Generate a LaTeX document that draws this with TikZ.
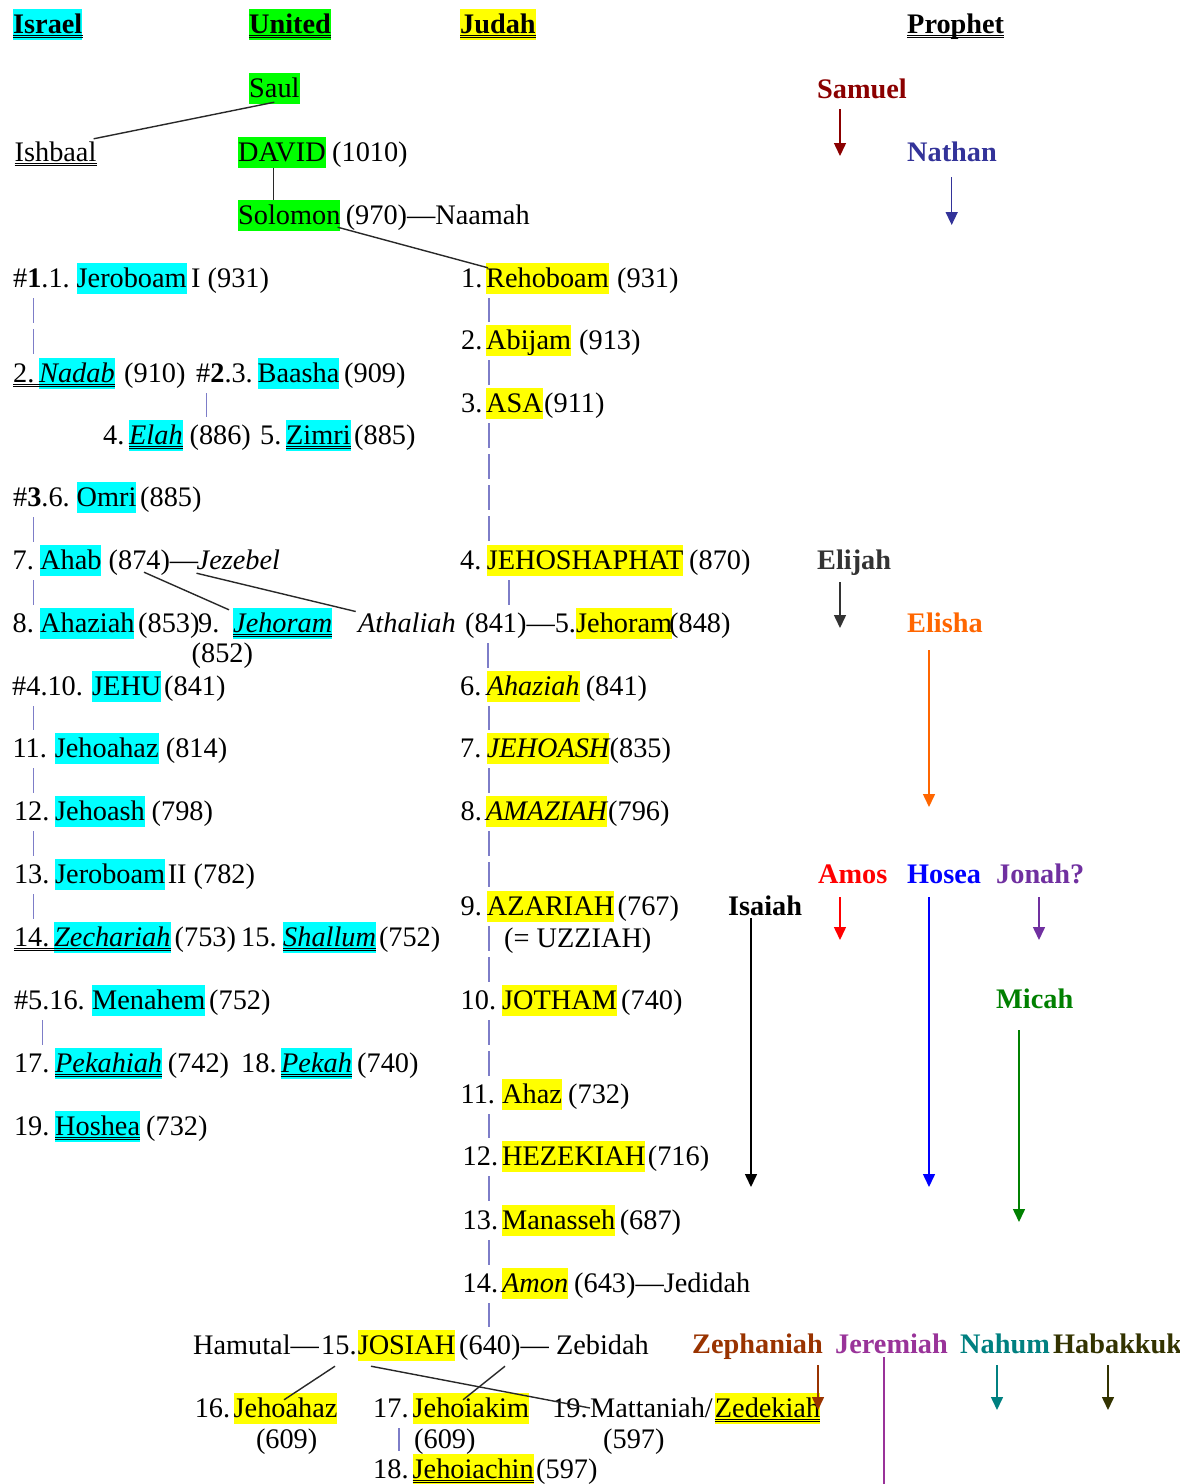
\documentclass[tikz,border=0pt]{standalone}
\usepackage{fontspec}
\setmainfont{Liberation Serif}
\usetikzlibrary{arrows.meta}
\definecolor{hcyan}{RGB}{0,255,255}
\definecolor{hgreen}{RGB}{0,255,0}
\definecolor{hyellow}{RGB}{255,255,0}
\definecolor{vlcol}{RGB}{125,125,200}
\definecolor{dlcol}{RGB}{40,40,40}
\definecolor{csam}{RGB}{139,0,0}
\definecolor{cnat}{RGB}{51,51,153}
\definecolor{celi}{RGB}{51,51,51}
\definecolor{cels}{RGB}{255,102,0}
\definecolor{camo}{RGB}{255,0,0}
\definecolor{chos}{RGB}{0,0,255}
\definecolor{cjon}{RGB}{112,48,160}
\definecolor{cisa}{RGB}{0,0,0}
\definecolor{cmic}{RGB}{0,128,0}
\definecolor{czep}{RGB}{153,51,0}
\definecolor{cjer}{RGB}{153,51,153}
\definecolor{cnah}{RGB}{0,128,128}
\definecolor{chab}{RGB}{51,51,0}
\tikzset{
 t/.style={anchor=base west, inner sep=0pt, text height=24pt, text depth=7pt},
 hc/.style={t, fill=hcyan},
 hg/.style={t, fill=hgreen},
 hy/.style={t, fill=hyellow},
 it/.style={font=\itshape},
 bf/.style={font=\bfseries},
 pr/.style={t, font=\bfseries, text=#1},
 vl/.style={draw=vlcol, line width=1.3pt, dash pattern=on 25pt off 6pt, shorten <=4pt, shorten >=3pt},
 dl/.style={draw=dlcol, line width=1.4pt},
 ulst/.style={draw=black, line width=0.8pt},
 pa/.style={line width=1.5pt, draw=#1, -{Triangle[width=12pt,length=13pt,fill=#1]}},
}
\newcommand\vlk[3]{\path ([xshift=#3]#2.north west) coordinate (vtmp); \draw[vl] (vtmp |- #1.south) -- (vtmp);}
\newcommand\dul[2]{\draw[ulst] ([yshift=-2pt]#1.base west) -- ([yshift=-2pt]#2.base east); \draw[ulst] ([yshift=-4.5pt]#1.base west) -- ([yshift=-4.5pt]#2.base east);}
\begin{document}
\fontsize{28.3pt}{34pt}\selectfont
\begin{tikzpicture}[x=1pt,y=-1pt]
\fill[white] (0,0) rectangle (1180,1484);
\useasboundingbox (0,0) rectangle (1180,1484);

% headers
\node[hc,bf] (hIsr) at (13,33) {Israel};
\node[hg,bf] (hUni) at (249,33) {United};
\node[hy,bf] (hJud) at (460,33) {Judah};
\node[t,bf] (hPro) at (907,33) {Prophet};
\dul{hIsr}{hIsr} \dul{hUni}{hUni} \dul{hJud}{hJud} \dul{hPro}{hPro}

% united monarchy
\node[hg] (saul) at (249,97) {Saul};
\node[t] (ish) at (14.5,161) {Ishbaal};
\dul{ish}{ish}
\node[hg] (dav) at (238,161) {DAVID};
\node[t] (d1010) at (332,161) {(1010)};
\node[hg] (sol) at (238,224) {Solomon};
\node[t] (s970) at (345.6,224) {(970)—Naamah};

% Israel
\node[t] (j1n) at (13,287) {\#\textbf{1}.1.};
\node[hc] (jer1) at (76.5,287) {Jeroboam};
\node[t] (jer1b) at (191,287) {I (931)};

\node[t] (nad2n) at (13,382) {2.};
\node[hc,it] (nad) at (39,382) {Nadab};
\node[t] (nad910) at (124,382) {(910)};
\dul{nad2n}{nad}
\node[t] (b2n) at (196,382) {\#\textbf{2}.3.};
\node[hc] (baa) at (257.5,382) {Baasha};
\node[t] (b909) at (344,382) {(909)};

\node[t] (e4n) at (103,444) {4.};
\node[hc,it] (elah) at (129,444) {Elah};
\node[t] (e886) at (189.4,444) {(886)};
\node[t] (z5n) at (260,444) {5.};
\node[hc] (zim) at (286,444) {Zimri};
\node[t] (z885) at (354,444) {(885)};
\dul{elah}{elah} \dul{zim}{zim}

\node[t] (o3n) at (13,506) {\#\textbf{3}.6.};
\node[hc] (omri) at (76.5,506) {Omri};
\node[t] (o885) at (140,506) {(885)};

\node[t] (a7n) at (12.4,569) {7.};
\node[hc] (ahab) at (40,569) {Ahab};
\node[t] (a874) at (108.5,569) {(874)—};
\node[t,it] (jez) at (196.5,569) {Jezebel};

\node[t] (a8n) at (12.4,632) {8.};
\node[hc] (ahz8) at (40,632) {Ahaziah};
\node[t] (a853) at (138,632) {(853)};
\node[t] (n9) at (198,632) {9.};
\node[hc,it] (jor9) at (233,632) {Jehoram};
\dul{jor9}{jor9}
\node[t] (j852) at (191.5,662) {(852)};

\node[t] (j4hn) at (12,695) {\#4.10.};
\node[hc] (jehu) at (92,695) {JEHU};
\node[t] (j841) at (164,695) {(841)};

\node[t] (n11) at (12.4,757) {11.};
\node[hc] (jhz) at (54.7,757) {Jehoahaz};
\node[t] (j814) at (165.7,757) {(814)};

\node[t] (n12) at (13.8,820) {12.};
\node[hc] (jhs) at (55,820) {Jehoash};
\node[t] (j798) at (151.5,820) {(798)};

\node[t] (n13) at (13.8,883) {13.};
\node[hc] (jer2) at (55,883) {Jeroboam};
\node[t] (j782) at (167.6,883) {II (782)};

\node[t] (n14) at (13.8,946) {14.};
\node[hc,it] (zec) at (54,946) {Zechariah};
\node[t] (z753) at (174.5,946) {(753)};
\node[t] (n15) at (241,946) {15.};
\node[hc,it] (sha) at (283,946) {Shallum};
\node[t] (s752) at (378.8,946) {(752)};
\dul{n14}{zec} \dul{sha}{sha}

\node[t] (n16) at (13.8,1009) {\#5.16.};
\node[hc] (men) at (92,1009) {Menahem};
\node[t] (m752) at (209,1009) {(752)};

\node[t] (n17) at (13.8,1072) {17.};
\node[hc,it] (pkh) at (55,1072) {Pekahiah};
\node[t] (p742) at (167.6,1072) {(742)};
\node[t] (n18) at (241,1072) {18.};
\node[hc,it] (pek) at (281,1072) {Pekah};
\node[t] (p740) at (357,1072) {(740)};
\dul{pkh}{pkh} \dul{pek}{pek}

\node[t] (n19) at (13.8,1135) {19.};
\node[hc] (hos) at (55,1135) {Hoshea};
\node[t] (h732) at (146,1135) {(732)};
\dul{hos}{hos}

% Judah
\node[t] (r1n) at (461,287) {1.};
\node[hy] (reh) at (486,287) {Rehoboam};
\node[t] (r931) at (617,287) {(931)};
\node[t] (r2n) at (461,349) {2.};
\node[hy] (abi) at (486,349) {Abijam};
\node[t] (r913) at (579,349) {(913)};
\node[t] (r3n) at (461,412) {3.};
\node[hy] (asa) at (486,412) {ASA};
\node[t] (r911) at (544,412) {(911)};
\node[t] (j4n) at (460,569) {4.};
\node[hy] (jehos) at (486.6,569) {JEHOSHAPHAT};
\node[t] (r870) at (689,569) {(870)};
\node[t,it] (ath) at (358,632) {Athaliah};
\node[t] (a841) at (465,632) {(841)—5.};
\node[hy] (jor5) at (576,632) {Jehoram};
\node[t] (r848) at (669,632) {(848)};
\node[t] (r6n) at (460,695) {6.};
\node[hy,it] (ahz6) at (486.6,695) {Ahaziah};
\node[t] (r841) at (585.6,695) {(841)};
\node[t] (r7n) at (460,757) {7.};
\node[hy,it] (jhsh) at (486.6,757) {JEHOASH};
\node[t] (r835) at (609.5,757) {(835)};
\node[t] (r8n) at (460.5,820) {8.};
\node[hy,it] (ama) at (485.8,820) {AMAZIAH};
\node[t] (r796) at (608,820) {(796)};
\node[t] (r9n) at (460.5,915) {9.};
\node[hy] (aza) at (486.7,915) {AZARIAH};
\node[t] (r767) at (617.5,915) {(767)};
\node[t] (uzz) at (504,947) {(= UZZIAH)};
\node[t] (r10n) at (460.5,1009) {10.};
\node[hy] (jot) at (502,1009) {JOTHAM};
\node[t] (r740) at (621,1009) {(740)};
\node[t] (r11n) at (460.5,1103) {11.};
\node[hy] (ahaz) at (502,1103) {Ahaz};
\node[t] (r732) at (568,1103) {(732)};
\node[t] (r12n) at (462.5,1165) {12.};
\node[hy] (hez) at (502,1165) {HEZEKIAH};
\node[t] (r716) at (647.7,1165) {(716)};
\node[t] (r13n) at (462.5,1229) {13.};
\node[hy] (man) at (502,1229) {Manasseh};
\node[t] (r687) at (619.6,1229) {(687)};
\node[t] (r14n) at (462.5,1292) {14.};
\node[hy,it] (amon) at (502,1292) {Amon};
\node[t] (r643) at (574,1292) {(643)—Jedidah};
\node[t] (ham) at (193,1354) {Hamutal—};
\node[t] (r15n) at (321,1354) {15.};
\node[hy] (jos) at (357.6,1354) {JOSIAH};
\node[t] (p640) at (459,1354) {(640)};
\node[t] (zeb) at (520.5,1354) {— Zebidah};
\node[t] (n16b) at (194.6,1417) {16.};
\node[hy] (jhz2) at (233.5,1417) {Jehoahaz};
\node[t] (n17b) at (373,1417) {17.};
\node[hy] (jkim) at (412.5,1417) {Jehoiakim};
\node[t] (n19b) at (552,1417) {19.};
\node[t] (mat) at (590,1417) {Mattaniah/};
\node[hy] (zed) at (714.7,1417) {Zedekiah};
\dul{zed}{zed}
\node[t] (p609a) at (255.8,1448) {(609)};
\node[t] (p609b) at (414,1448) {(609)};
\node[t] (p597) at (603,1448) {(597)};
\node[t] (n18b) at (373,1478) {18.};
\node[hy] (jchin) at (412.5,1478) {Jehoiachin};
\node[t] (p597b) at (536,1478) {(597)};
\dul{jchin}{jchin}

% succession lines (Israel)
\vlk{j1n}{nad2n}{20.7pt}
\vlk{b2n}{elah}{77.7pt}
\vlk{o3n}{a7n}{21.3pt}
\vlk{a7n}{a8n}{21.4pt}
\vlk{j4hn}{n11}{21.4pt}
\vlk{n11}{n12}{19.7pt}
\vlk{n12}{n13}{19.7pt}
\vlk{n13}{n14}{19.7pt}
\vlk{n16}{n17}{28.9pt}
% succession lines (Judah)
\vlk{r1n}{r2n}{28pt}
\vlk{r2n}{r3n}{28pt}
\vlk{r3n}{j4n}{29pt}
\vlk{j4n}{a841}{44pt}
\vlk{a841}{r6n}{28pt}
\vlk{r6n}{r7n}{29pt}
\vlk{r7n}{r8n}{28.5pt}
\vlk{r8n}{r9n}{28.5pt}
\vlk{r9n}{r10n}{28.5pt}
\vlk{r10n}{r11n}{28.5pt}
\vlk{r11n}{r12n}{26.5pt}
\vlk{r12n}{r13n}{26.5pt}
\vlk{r13n}{r14n}{26.5pt}
\vlk{r14n}{p640}{30pt}
\vlk{n17b}{n18b}{26pt}

% family lines
\draw[dl] ([yshift=2pt]saul.south) -- ([xshift=-3pt,yshift=-2pt]ish.north east);
\path ([xshift=35.6pt]dav.south west) coordinate (dtmp);
\draw[dl] (dtmp) -- (dtmp |- sol.north);
\draw[dl] ([xshift=-3pt,yshift=4pt]sol.south east) -- ([xshift=2pt,yshift=-5pt]reh.north west);
\draw[dl] ([xshift=35.5pt,yshift=4pt]a874.south west) -- ([xshift=-4pt,yshift=-2pt]jor9.north west);
\draw[dl] ([yshift=3pt]jez.south west) -- ([xshift=-2.3pt,yshift=-3.7pt]ath.north west);
\draw[dl] ([xshift=14pt,yshift=-5pt]r15n.south west) -- ([xshift=50.5pt,yshift=-7pt]jhz2.north west);
\draw[dl] ([xshift=13.4pt,yshift=-5pt]jos.south west) -- ([yshift=9pt]mat.base west);
\draw[dl] ([xshift=46pt,yshift=-5pt]p640.south west) -- ([xshift=50.5pt,yshift=-7pt]jkim.north west);

% prophets
\node[pr=csam] (samuel) at (817,98) {Samuel};
\node[pr=cnat] (nathan) at (907,161) {Nathan};
\node[pr=celi] (elijah) at (817,569) {Elijah};
\node[pr=cels] (elisha) at (907,632) {Elisha};
\node[pr=camo] (amos) at (818,883) {Amos};
\node[pr=chos] (hosea) at (907,883) {Hosea};
\node[pr=cjon] (jonah) at (996,883) {Jonah?};
\node[pr=cisa] (isaiah) at (728,915) {Isaiah};
\node[pr=cmic] (micah) at (996,1008) {Micah};
\node[pr=czep] (zeph) at (692,1353) {Zephaniah};
\node[pr=cjer] (jerem) at (835,1353) {Jeremiah};
\node[pr=cnah] (nahum) at (960,1353) {Nahum};
\node[pr=chab] (habak) at (1053,1353) {Habakkuk};

\coordinate (samE) at (840,156);
\coordinate (natE) at (951.7,225);
\coordinate (eliE) at (840,628);
\coordinate (elsE) at (929,807);
\coordinate (amoE) at (840,940);
\coordinate (hosE) at (929,1187);
\coordinate (jonE) at (1039,940);
\coordinate (isaE) at (751,1187);
\coordinate (micE) at (1019,1222);
\coordinate (zepE) at (818,1410);
\coordinate (jerE) at (884,1484);
\coordinate (nahE) at (997,1410);
\coordinate (habE) at (1108,1410);

\draw[pa=csam, shorten <=4pt] (samE |- samuel.south) -- (samE);
\draw[pa=cnat, shorten <=9pt] (natE |- nathan.south) -- (natE);
\draw[pa=celi, shorten <=6pt] (eliE |- elijah.south) -- (eliE);
\draw[pa=cels, shorten <=11pt] (elsE |- elisha.south) -- (elsE);
\draw[pa=camo, shorten <=7pt] (amoE |- amos.south) -- (amoE);
\draw[pa=chos, shorten <=7pt] (hosE |- hosea.south) -- (hosE);
\draw[pa=cjon, shorten <=7pt] (jonE |- jonah.south) -- (jonE);
\draw[pa=cisa, shorten <=3pt] (isaE |- isaiah.base) -- (isaE);
\draw[pa=cmic, shorten <=15pt] (micE |- micah.south) -- (micE);
\draw[pa=czep, shorten <=5pt] (zepE |- zeph.south) -- (zepE);
\draw[line width=1.5pt, draw=cjer, shorten <=4pt] (jerE |- jerem.base) -- (jerE);
\draw[pa=cnah, shorten <=5pt] (nahE |- nahum.south) -- (nahE);
\draw[pa=chab, shorten <=5pt] (habE |- habak.south) -- (habE);
\end{tikzpicture}
\end{document}
